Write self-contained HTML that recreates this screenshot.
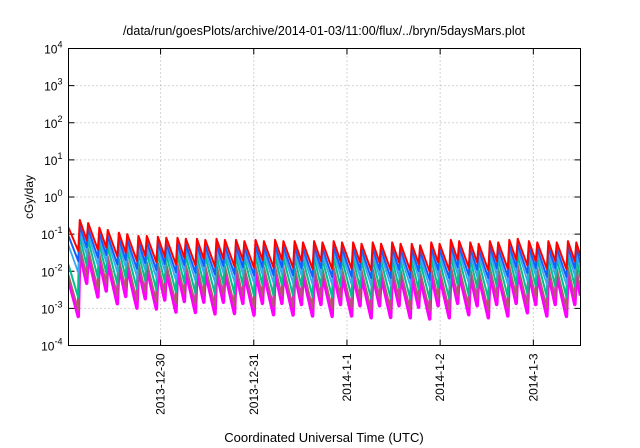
<!DOCTYPE html>
<html><head><meta charset="utf-8"><style>
body{margin:0;background:#fff;}
svg{display:block;font-family:"Liberation Sans",sans-serif;}
</style></head><body>
<svg id="c" width="640" height="448"></svg>
<script>
const tickDays=[1,2,3,4,5];
const tickLabels=["2013-12-30","2013-12-31","2014-1-1","2014-1-2","2014-1-3"];
const yExps=[-4,-3,-2,-1,0,1,2,3,4];
const peakTimes=[.117,.207,.327,.417,.536,.626,.746,.836,.955,1.045,1.165,1.255,1.374,1.464,1.584,1.674,1.793,1.883,2.003,2.093,2.212,2.302,2.422,2.512,2.631,2.721,2.841,2.931,3.050,3.140,3.260,3.350,3.469,3.559,3.679,3.769,3.888,3.978,4.098,4.188,4.307,4.397,4.517,4.607,4.726,4.816,4.936,5.026,5.145,5.235,5.355,5.445];
const redPeaks=[.24,.2,.15,.13,.11,.1,.09,.09,.085,.08,.08,.075,.075,.07,.075,.07,.07,.065,.07,.065,.07,.065,.065,.06,.065,.06,.065,.06,.06,.055,.06,.055,.06,.055,.055,.05,.06,.055,.07,.065,.06,.055,.065,.06,.07,.075,.065,.06,.065,.06,.065,.06];
const bluePeaks=[.17,.14,.105,.09,.077,.07,.063,.063,.06,.056,.056,.053,.053,.049,.053,.049,.049,.046,.049,.046,.049,.046,.046,.042,.046,.042,.046,.042,.042,.039,.042,.039,.042,.039,.039,.035,.042,.039,.049,.046,.042,.039,.046,.042,.049,.053,.046,.042,.046,.042,.046,.042];
const lightBluePeaks=[.12,.1,.075,.065,.055,.05,.045,.045,.043,.04,.04,.038,.038,.035,.038,.035,.035,.033,.035,.033,.035,.033,.033,.03,.033,.03,.033,.03,.03,.028,.03,.028,.03,.028,.028,.025,.03,.028,.035,.033,.03,.028,.033,.03,.035,.038,.033,.03,.033,.03,.033,.03];
const tealPeaks=[.084,.07,.053,.046,.039,.035,.032,.032,.03,.028,.028,.026,.026,.025,.026,.025,.025,.023,.025,.023,.025,.023,.023,.021,.023,.021,.023,.021,.021,.019,.021,.019,.021,.019,.019,.018,.021,.019,.025,.023,.021,.019,.023,.021,.025,.026,.023,.021,.023,.021,.023,.021];
const brownPeaks=[.048,.04,.03,.026,.022,.02,.018,.018,.017,.016,.016,.015,.015,.014,.015,.014,.014,.013,.014,.013,.014,.013,.013,.012,.013,.012,.013,.012,.012,.011,.012,.011,.012,.011,.011,.01,.012,.011,.014,.013,.012,.011,.013,.012,.014,.015,.013,.012,.013,.012,.013,.012];
const magentaPeaks=[.034,.028,.021,.018,.015,.014,.013,.013,.012,.011,.011,.0105,.0105,.0098,.0105,.0098,.0098,.0091,.0098,.0091,.0098,.0091,.0091,.0084,.0091,.0084,.0091,.0084,.0084,.0077,.0084,.0077,.0084,.0077,.0077,.007,.0084,.0077,.0098,.0091,.0084,.0077,.0091,.0084,.0098,.0105,.0091,.0084,.0091,.0084,.0091,.0084];
const startValues=[.006,.008,.015,.05,.09,.15];
const decayPerDay=[9.5,9,8.5,7,6.5,6];

const NS="http://www.w3.org/2000/svg";
const svg=document.getElementById('c');
const L=68.5,R=580.5,T=48.5,B=345.5;
const x0=0.012,x1=5.506;
const X=d=>L+(d-x0)/(x1-x0)*(R-L);
const Y=v=>B-(Math.log10(v)+4)/8*(B-T);
function mk(tag,attrs,parent){const e=document.createElementNS(NS,tag);for(const k in attrs)e.setAttribute(k,attrs[k]);(parent||svg).appendChild(e);return e;}

yExps.forEach(e=>{const y=Y(Math.pow(10,e));
 if(e>-4&&e<4){const g=mk('line',{x1:L,x2:R,y1:y,y2:y,stroke:'#aaa','stroke-dasharray':'1,3','stroke-width':1});
 
 }
 const t=mk('text',{x:L-6,y:y+5,'text-anchor':'end','font-size':12});
 
 
 t.innerHTML='10<tspan dy="-6" font-size="9">'+e+'</tspan>';
 mk('line',{x1:L,x2:L+6,y1:y,y2:y,stroke:'#000'});mk('line',{x1:R,x2:R-6,y1:y,y2:y,stroke:'#000'});
});
tickDays.forEach((d,i)=>{const x=X(d);
 const g=mk('line',{x1:x,x2:x,y1:T,y2:B,stroke:'#aaa','stroke-dasharray':'1,3'});
 
 
 mk('line',{x1:x,x2:x,y1:B,y2:B-6,stroke:'#000'});mk('line',{x1:x,x2:x,y1:T,y2:T+6,stroke:'#000'});
 const t=mk('text',{x:0,y:0,'text-anchor':'end','font-size':12,transform:`translate(${x+4},${B+8}) rotate(-90)`});
 
 
 t.textContent=tickLabels[i];
});
mk('clipPath',{id:'cp'});
mk('rect',{x:L,y:T,width:R-L,height:B-T},document.getElementById('cp'));
const series=[[magentaPeaks,'#ff00ff',3.5,'series-magenta'],[brownPeaks,'#b05a6a',1.8,'series-brown'],[tealPeaks,'#00c090',2,'series-teal'],[lightBluePeaks,'#3aa8f0',1.8,'series-light-blue'],[bluePeaks,'#1060ff',2,'series-blue'],[redPeaks,'#ff0000',2,'series-red']];
series.forEach((s,si)=>{
 const pk=s[0],k=decayPerDay[si];
 let pts=[];let tPrev=x0,vPrev=startValues[si];
 pts.push([X(x0),Y(vPrev)]);
 for(let i=0;i<peakTimes.length;i++){
  const t=peakTimes[i];const v=vPrev*Math.pow(10,-k*(t-tPrev));
  pts.push([X(t),Y(v)]);pts.push([X(t)+1.5,Y(pk[i])]);
  tPrev=t;vPrev=pk[i];
 }
 const v=vPrev*Math.pow(10,-k*(x1-tPrev));pts.push([X(x1),Y(v)]);
 const p=mk('polyline',{points:pts.map(q=>q.join(',')).join(' '),fill:'none',stroke:s[1],'stroke-width':s[2],'stroke-linejoin':'round','clip-path':'url(#cp)'});
 
 
});
const fr=mk('rect',{x:L,y:T,width:R-L,height:B-T,fill:'none',stroke:'#000','stroke-width':1});


const ti=mk('text',{x:324,y:35,'text-anchor':'middle','font-size':12.5});


ti.textContent='/data/run/goesPlots/archive/2014-01-03/11:00/flux/../bryn/5daysMars.plot';
const yl=mk('text',{x:0,y:0,'text-anchor':'middle','font-size':12,transform:'translate(33,197) rotate(-90)'});


yl.textContent='cGy/day';
const xl=mk('text',{x:324,y:442,'text-anchor':'middle','font-size':13});


xl.textContent='Coordinated Universal Time (UTC)';
</script>
</body></html>
